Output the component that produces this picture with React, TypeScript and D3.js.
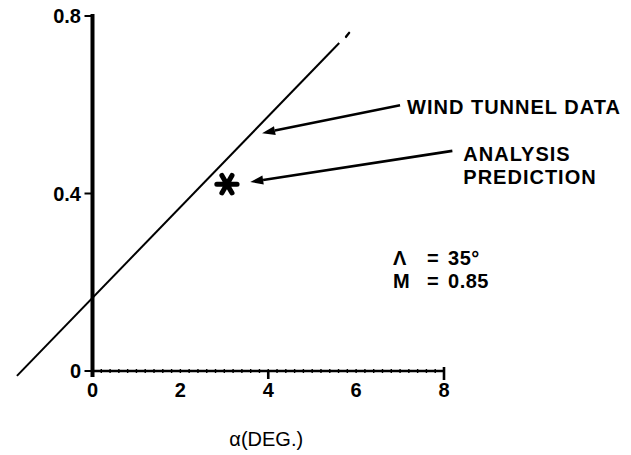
import { range, scaleLinear, symbol, symbolAsterisk } from 'd3'

// CL vs alpha — wind tunnel line with one analysis prediction point

const xTicks = [0, 2, 4, 6, 8]
const yTicks = [0, 0.4, 0.8]
const yTickLabels = ['0', '0.4', '0.8']

// wind tunnel data (straight line, broken at the top end in the scan)
const tunnelX = [-1.72, 5.615]
const tunnelY = [-0.011, 0.739]
const tunnelTailX = [5.77, 5.84]
const tunnelTailY = [0.753, 0.762]

// analysis prediction
const predX = [3.06]
const predY = [0.421]

// annotations: arrow tail -> tip, text anchor (data units)
const arrowLabels = [['WIND TUNNEL DATA'], ['ANALYSIS', 'PREDICTION']]
const arrowTailX = [7.0, 8.19]
const arrowTailY = [0.599, 0.496]
const arrowTipX = [3.86, 3.59]
const arrowTipY = [0.536, 0.426]
const labelX = [7.16, 8.44]
const labelY = [0.579, 0.473]

const condLabels = ['Λ', 'M']
const condValues = ['35°', '0.85']
const condX = 6.84
const condY = [0.239, 0.187]

const W = 631
const H = 455
const FONT = '"Liberation Sans", Arial, Helvetica, sans-serif'

export default function App() {
  const x = scaleLinear().domain([0, 8]).range([92.5, 444])
  const y = scaleLinear().domain([0, 0.8]).range([371, 16])
  const minor = range(0.2, 8, 0.2)
  const ink = '#000'
  const star = symbol(symbolAsterisk, 290)() ?? ''

  const arrow = (i: number) => {
    const x0 = x(arrowTailX[i])
    const y0 = y(arrowTailY[i])
    const x1 = x(arrowTipX[i])
    const y1 = y(arrowTipY[i])
    const ang = Math.atan2(y1 - y0, x1 - x0)
    const len = 13
    const half = 4.5
    const bx = x1 - len * Math.cos(ang)
    const by = y1 - len * Math.sin(ang)
    const px = -Math.sin(ang) * half
    const py = Math.cos(ang) * half
    return (
      <g key={i}>
        <line x1={x0} y1={y0} x2={bx} y2={by} stroke={ink} strokeWidth={2.6} />
        <polygon points={`${x1},${y1} ${bx + px},${by + py} ${bx - px},${by - py}`} fill={ink} />
      </g>
    )
  }

  return (
    <svg width={W} height={H} style={{ position: 'absolute', left: 0, top: 0, background: '#fff' }} fontFamily={FONT}>
      <rect width={W} height={H} fill="#fff" />

      {/* y axis */}
      <line x1={x(0)} y1={y(0.8) - 2} x2={x(0)} y2={y(0) + 6} stroke={ink} strokeWidth={4} />
      {yTicks.map((t, i) => (
        <g key={t}>
          <line x1={x(0) - 8} x2={x(0)} y1={y(t)} y2={y(t)} stroke={ink} strokeWidth={2} />
          <text x={81} y={y(t)} dy="0.36em" textAnchor="end" fontSize={20} fontWeight="bold">
            {yTickLabels[i]}
          </text>
        </g>
      ))}

      {/* x axis */}
      <line x1={x(0)} y1={y(0)} x2={x(8)} y2={y(0)} stroke={ink} strokeWidth={2.6} />
      {minor.map((m) => (
        <line key={m} x1={x(m)} x2={x(m)} y1={y(0) - 2} y2={y(0) + 2} stroke={ink} strokeWidth={1.4} />
      ))}
      <line x1={x(4)} x2={x(4)} y1={y(0)} y2={y(0) + 8} stroke={ink} strokeWidth={2.6} />
      <line x1={x(8)} x2={x(8)} y1={y(0) - 4} y2={y(0) + 9} stroke={ink} strokeWidth={2.6} />
      {xTicks.map((t) => (
        <text key={t} x={x(t)} y={397} textAnchor="middle" fontSize={20} fontWeight="bold">
          {t}
        </text>
      ))}
      <text x={x(4) - 2} y={446} textAnchor="middle" fontSize={20}>
        α(DEG.)
      </text>

      {/* wind tunnel line */}
      <line x1={x(tunnelX[0])} y1={y(tunnelY[0])} x2={x(tunnelX[1])} y2={y(tunnelY[1])} stroke={ink} strokeWidth={2} />
      <line
        x1={x(tunnelTailX[0])}
        y1={y(tunnelTailY[0])}
        x2={x(tunnelTailX[1])}
        y2={y(tunnelTailY[1])}
        stroke={ink}
        strokeWidth={2.4}
        strokeLinecap="round"
      />

      {/* prediction point */}
      {predX.map((px, i) => (
        <path
          key={i}
          d={star}
          transform={`translate(${x(px)},${y(predY[i])}) rotate(90)`}
          fill="none"
          stroke={ink}
          strokeWidth={5}
          strokeLinecap="round"
        />
      ))}

      {/* arrows and labels */}
      {arrowLabels.map((_, i) => arrow(i))}
      {arrowLabels.map((lines, i) => (
        <text key={i} x={x(labelX[i])} y={y(labelY[i])} fontSize={20} fontWeight="bold" letterSpacing={1}>
          {lines.map((l, j) => (
            <tspan key={j} x={x(labelX[i])} dy={j === 0 ? 0 : 23}>
              {l}
            </tspan>
          ))}
        </text>
      ))}

      {/* flight condition */}
      {condLabels.map((c, i) => (
        <text key={c} y={y(condY[i])} fontSize={20} fontWeight="bold" letterSpacing={0.5}>
          <tspan x={x(condX)}>{c}</tspan>
          <tspan x={x(condX) + 34}>=</tspan>
          <tspan x={x(condX) + 55}>{condValues[i]}</tspan>
        </text>
      ))}
    </svg>
  )
}
